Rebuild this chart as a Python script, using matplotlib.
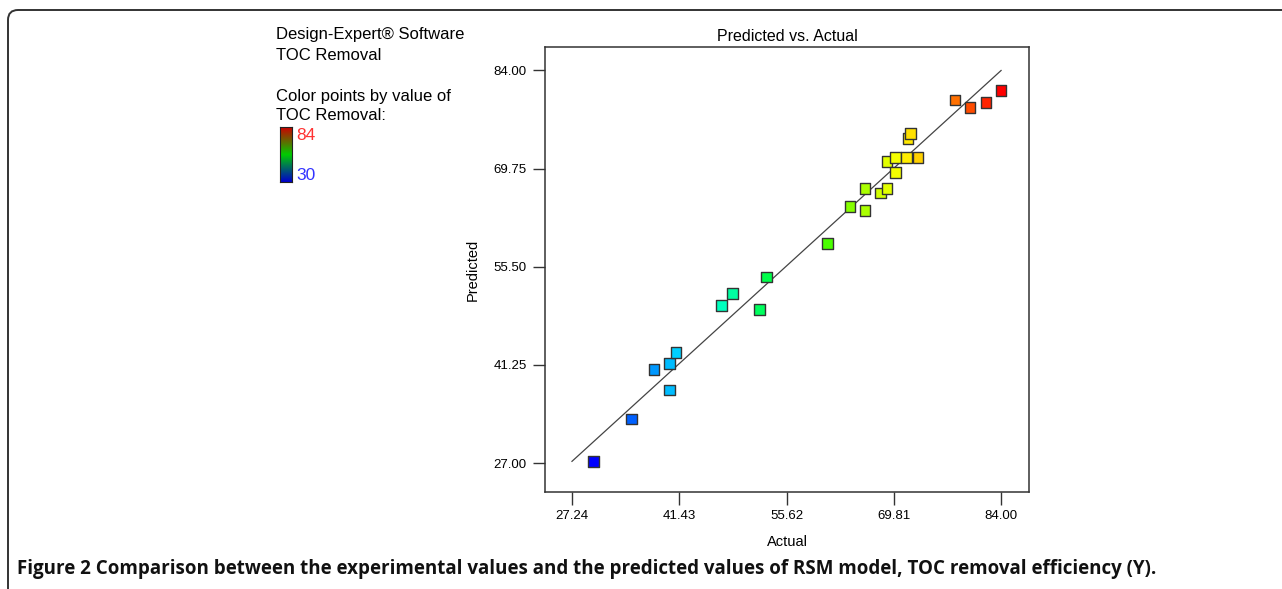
import numpy as np
import matplotlib
matplotlib.use('Agg')
import matplotlib.pyplot as plt
from matplotlib.colors import LinearSegmentedColormap
from matplotlib.patches import FancyBboxPatch
from matplotlib.transforms import IdentityTransform

plt.rcParams['font.family'] = ['Liberation Sans', 'DejaVu Sans']

# TOC removal: actual vs predicted
actual = [30.1, 35.1, 38.1, 40.1, 40.1, 41.0, 47.0, 48.5, 52.0, 53.0,
          61.0, 64.0, 66.0, 66.0, 68.0, 68.9, 68.9, 70.0, 70.0, 71.5,
          73.0, 71.7, 72.0, 77.9, 79.9, 82.0, 84.0]
predicted = [27.2, 33.4, 40.6, 41.5, 37.6, 43.1, 49.9, 51.6, 49.3, 54.0,
             58.9, 64.3, 66.9, 63.7, 66.2, 66.9, 70.8, 71.4, 69.2, 71.4,
             71.4, 74.1, 74.8, 79.7, 78.6, 79.4, 81.1]
x_ticks = [27.24, 41.43, 55.62, 69.81, 84.00]
y_ticks = [27.00, 41.25, 55.50, 69.75, 84.00]
vmin, vmax = 30, 84

# Design-Expert style rainbow
cmap = LinearSegmentedColormap.from_list(
    'de', ['#0000ff', '#00ffff', '#00ff00', '#ffff00', '#ff0000'])

fig = plt.figure(figsize=(12.82, 5.89), dpi=100)

ax = fig.add_axes([0.4251, 0.1647, 0.3776, 0.7555])
ax.plot([x_ticks[0], x_ticks[-1]], [x_ticks[0], x_ticks[-1]],
        color='#444444', lw=0.9, zorder=1)
ax.scatter(actual, predicted, c=actual, cmap=cmap, vmin=vmin, vmax=vmax,
           marker='s', s=60, edgecolors='#333333', linewidths=1.0, zorder=2)

ax.set_xlim(23.67, 87.70)
ax.set_ylim(22.79, 87.41)
ax.set_xticks(x_ticks)
ax.set_xticklabels(['%.2f' % v for v in x_ticks])
ax.set_yticks(y_ticks)
ax.set_yticklabels(['%.2f' % v for v in y_ticks])
ax.tick_params(direction='out', length=9, width=1, labelsize=9.5, pad=4, color='#333333')
for sp in ax.spines.values():
    sp.set_color('#333333')
    sp.set_linewidth(1.1)
ax.set_title('Predicted vs. Actual', fontsize=11.5, pad=4)
ax.set_xlabel('Actual', fontsize=10.5, labelpad=9)
ax.set_ylabel('Predicted', fontsize=10.5, labelpad=10)

# legend text block on the left
fig.text(276/1282, 1-35/589, 'Design-Expert\u00ae Software', fontsize=12, va='center')
fig.text(276/1282, 1-55/589, 'TOC Removal', fontsize=12, va='center')
fig.text(276/1282, 1-96/589, 'Color points by value of', fontsize=12, va='center')
fig.text(276/1282, 1-116/589, 'TOC Removal:', fontsize=12, va='center')

cax = fig.add_axes([280/1282, 1-182/589, 12/1282, 55/589])
grad = np.linspace(1, 0, 100).reshape(-1, 1)
bar_cmap = LinearSegmentedColormap.from_list('rgb', ['#0000cc', '#00cc00', '#cc0000'])
cax.imshow(grad, aspect='auto', cmap=bar_cmap, vmin=0, vmax=1)
cax.set_xticks([])
cax.set_yticks([])
for sp in cax.spines.values():
    sp.set_color('#222222')
fig.text(296/1282, 1-136/589, str(vmax), fontsize=12.5, color='#ff3333', va='center')
fig.text(296/1282, 1-175/589, str(vmin), fontsize=12.5, color='#3333ff', va='center')

# caption
fig.text(17/1282, 1-569/589,
         'Figure 2 Comparison between the experimental values and the predicted values of RSM model, TOC removal efficiency (Y).',
         fontsize=13.5, fontweight='bold', family='Open Sans', va='center', color='#111111')

# rounded frame around the figure
frame = FancyBboxPatch((8, -50), 1400, 629, boxstyle='round,pad=0,rounding_size=10',
                       transform=IdentityTransform(), fill=False,
                       edgecolor='#333333', linewidth=1.4)
fig.add_artist(frame)

fig.savefig('out.png', dpi=100)
